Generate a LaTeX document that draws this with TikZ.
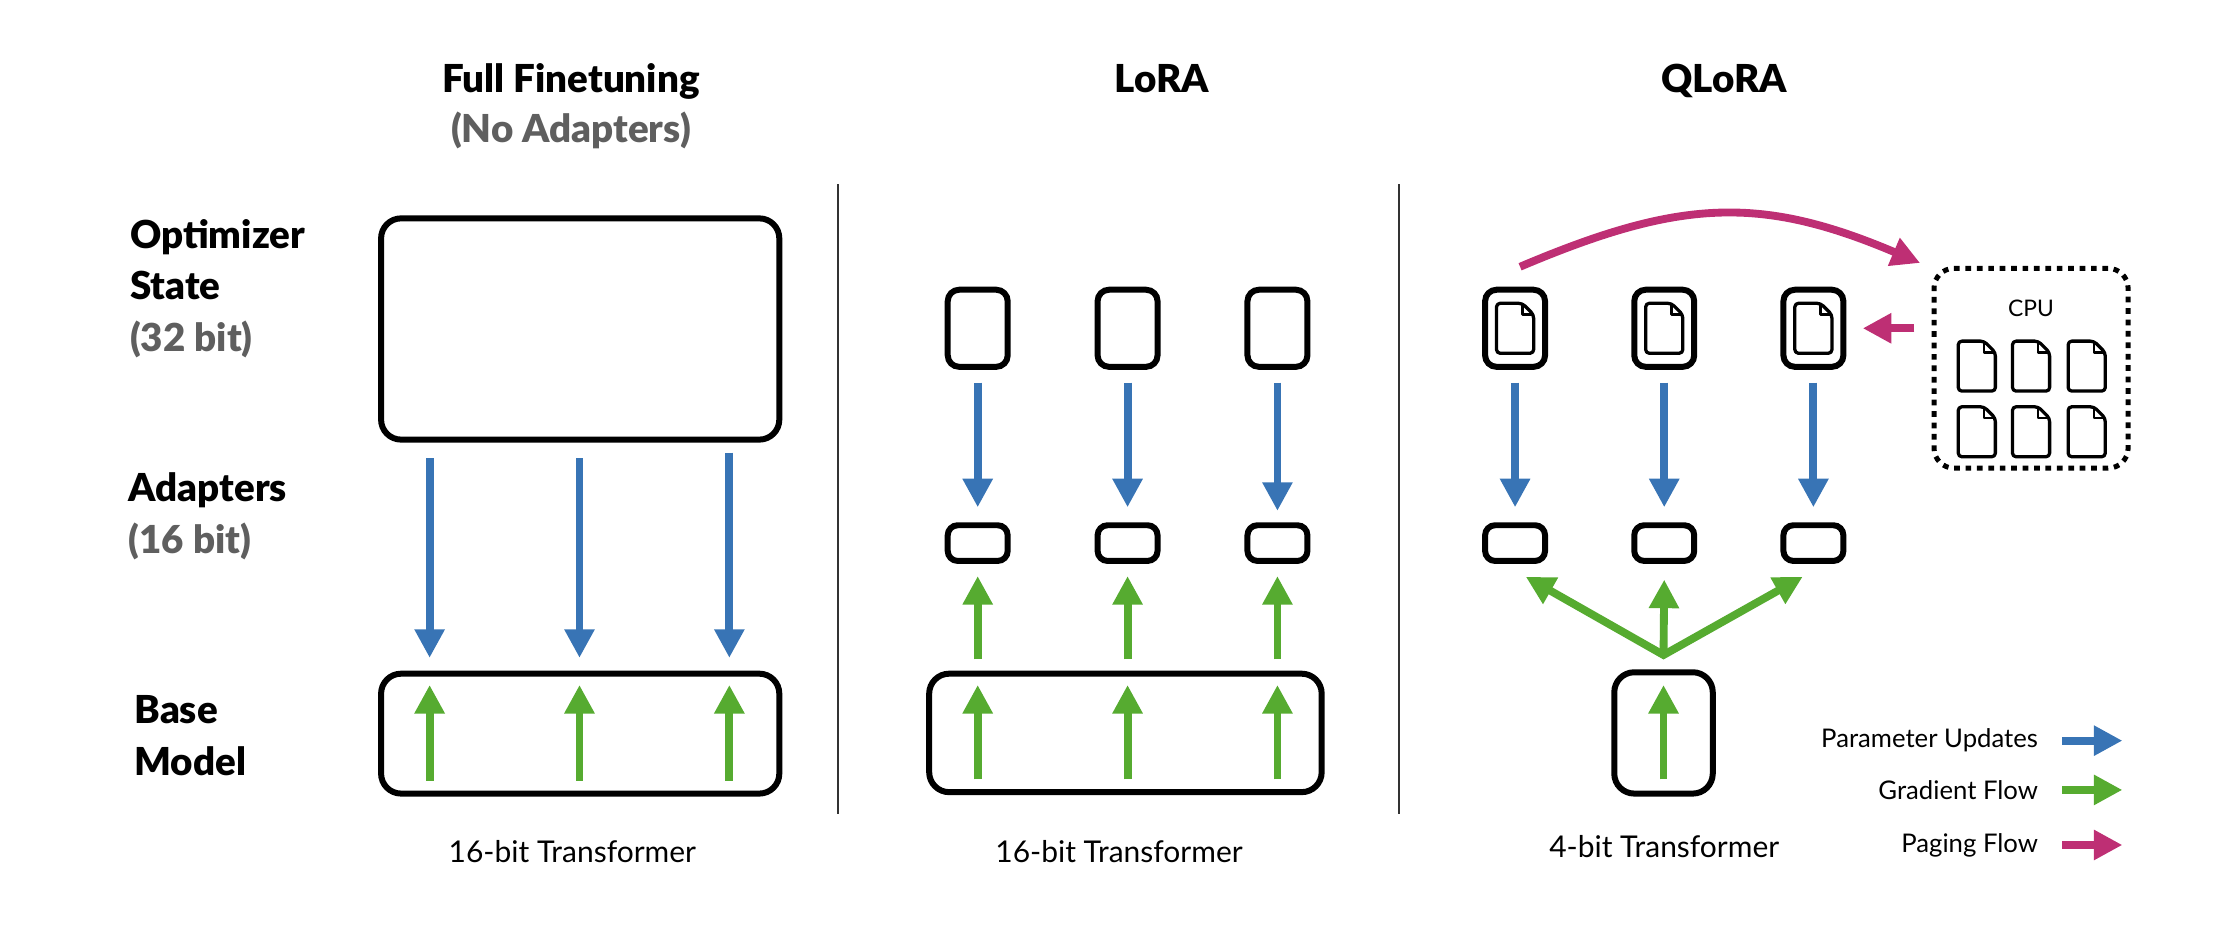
\documentclass[tikz,border=0pt]{standalone}
\usepackage{fontspec}
\setmainfont{Lato}[BoldFont={Lato Black}]
\usepackage{xcolor}
\usetikzlibrary{arrows.meta,positioning}
\definecolor{upblue}{HTML}{3874B5}
\definecolor{gradgreen}{HTML}{56AB30}
\definecolor{pagepink}{HTML}{BE2F74}
\definecolor{subgray}{HTML}{5F5F5F}

\begin{document}
\begin{tikzpicture}
	[x=1pt,y=-1pt,
	title/.style={font=\fontsize{27}{32}\selectfont\bfseries,inner sep=0pt,anchor=base},
	rowlab/.style={font=\fontsize{27}{32}\selectfont\bfseries,inner sep=0pt,anchor=base west},
	caption/.style={font=\fontsize{21}{25}\selectfont,inner sep=0pt,anchor=base},
	legend/.style={font=\fontsize{18}{22}\selectfont,inner sep=0pt,anchor=base east},
	box/.style={draw,line width=4.2pt,rounded corners=8pt,inner sep=0pt},
	bigbox/.style={box,rounded corners=14pt},
	optbox/.style={box,minimum width=42pt,minimum height=54pt},
	adbox/.style={box,rounded corners=7pt,minimum width=42pt,minimum height=25pt},
	flow/.style={line width=5.5pt,-{Triangle[width=20pt,length=20pt]}},
	upd/.style={flow,draw=upblue},
	grad/.style={flow,draw=gradgreen},
	paging/.style={flow,draw=pagepink},
	sep/.style={line width=1.5pt,black!80},
	docpage/.pic={
		\draw[line width=2.3pt,rounded corners=2.5pt,line join=round]
			(-13,-17.5) -- (5,-17.5) -- (13,-9.5) -- (13,17.5) -- (-13,17.5) -- cycle;
		\draw[line width=1.8pt,line join=round] (5,-17.5) -- (5,-9.5) -- (13,-9.5);
	}]
	\useasboundingbox (0,0) rectangle (1568,650);

	% titles
	\node[title] (tfull) at (400,65) {Full Finetuning};
	\node[title,text=subgray] (tnoad) at (400,99.5) {(No Adapters)};
	\node[title] (tlora) at (814,65) {LoRA};
	\node[title] (tqlora) at (1208,65) {QLoRA};

	% row labels
	\node[rowlab] (lopt) at (91,174) {Optimizer};
	\node[rowlab] (lstate) at (91,210) {State};
	\node[rowlab,text=subgray] (l32) at (91,246) {(32 bit)};
	\node[rowlab] (lad) at (90,351.5) {Adapters};
	\node[rowlab,text=subgray] (l16) at (90,387.5) {(16 bit)};
	\node[rowlab] (lbase) at (94,507) {Base};
	\node[rowlab] (lmodel) at (94,543) {Model};

	% separators
	\coordinate (sepA) at (587,129);
	\coordinate (sepB) at (980,129);
	\draw[sep] (sepA) -- ++(0,441);
	\draw[sep] (sepB) -- ++(0,441);

	% full finetuning
	\node[bigbox,minimum width=279pt,minimum height=155pt] (opt) at (406.5,230.5) {};
	\node[bigbox,minimum width=279pt,minimum height=84pt] (baseA) at (406.5,514) {};
	\coordinate (a1) at (301,0);
	\coordinate (a2) at (406,0);
	\coordinate (a3) at (511,0);
	\draw[upd,shorten <=11pt,shorten >=9pt] (opt.south -| a1) -- (baseA.north -| a1);
	\draw[upd,shorten <=11pt,shorten >=9pt] (opt.south -| a2) -- (baseA.north -| a2);
	\draw[upd,shorten <=7pt,shorten >=9pt] (opt.south -| a3) -- (baseA.north -| a3);
	\draw[grad,shorten <=11pt,shorten >=10pt] (baseA.south -| a1) -- (baseA.north -| a1);
	\draw[grad,shorten <=11pt,shorten >=10pt] (baseA.south -| a2) -- (baseA.north -| a2);
	\draw[grad,shorten <=11pt,shorten >=10pt] (baseA.south -| a3) -- (baseA.north -| a3);
	\node[caption] (capA) at (401,604) {16-bit Transformer};

	% lora
	\node[optbox] (la1) at (685,230) {};
	\node[optbox] (la2) at (790,230) {};
	\node[optbox] (la3) at (895,230) {};
	\node[adbox] (lb1) at (685,380.5) {};
	\node[adbox] (lb2) at (790,380.5) {};
	\node[adbox] (lb3) at (895,380.5) {};
	\node[bigbox,minimum width=275pt,minimum height=83pt] (baseB) at (788.5,513.5) {};
	\draw[upd,shorten <=9pt,shorten >=10.5pt] (la1) -- (lb1);
	\draw[upd,shorten <=9pt,shorten >=10.5pt] (la2) -- (lb2);
	\draw[upd,shorten <=9pt,shorten >=8pt] (la3) -- (lb3);
	\draw[grad,shorten <=8pt,shorten >=8.5pt] (baseB.north -| lb1) -- (lb1.south);
	\draw[grad,shorten <=8pt,shorten >=8.5pt] (baseB.north -| lb2) -- (lb2.south);
	\draw[grad,shorten <=8pt,shorten >=8.5pt] (baseB.north -| lb3) -- (lb3.south);
	\draw[grad,shorten <=11pt,shorten >=10pt] (baseB.south -| lb1) -- (baseB.north -| lb1);
	\draw[grad,shorten <=11pt,shorten >=10pt] (baseB.south -| lb2) -- (baseB.north -| lb2);
	\draw[grad,shorten <=11pt,shorten >=10pt] (baseB.south -| lb3) -- (baseB.north -| lb3);
	\node[caption] (capB) at (784,604) {16-bit Transformer};

	% qlora
	\node[optbox] (qa1) at (1061.5,230) {};
	\node[optbox] (qa2) at (1166,230) {};
	\node[optbox] (qa3) at (1270.5,230) {};
	\pic at (qa1.center) {docpage};
	\pic at (qa2.center) {docpage};
	\pic at (qa3.center) {docpage};
	\node[adbox] (qb1) at (1061.5,380.5) {};
	\node[adbox] (qb2) at (1166,380.5) {};
	\node[adbox] (qb3) at (1270.5,380.5) {};
	\node[box,rounded corners=14pt,minimum width=69pt,minimum height=85pt] (baseC) at (1165.5,513.5) {};
	\coordinate[above=10pt of baseC] (fan);
	\draw[upd,shorten <=9pt,shorten >=10.5pt] (qa1) -- (qb1);
	\draw[upd,shorten <=9pt,shorten >=10.5pt] (qa2) -- (qb2);
	\draw[upd,shorten <=9pt,shorten >=10.5pt] (qa3) -- (qb3);
	\draw[grad,{Triangle[width=20pt,length=20pt]}-{Triangle[width=20pt,length=20pt]}]
		([xshift=7.5pt,yshift=-9pt]qb1.south) -- (fan) -- ([xshift=-7.5pt,yshift=-9pt]qb3.south);
	\draw[grad] (fan) -- ([yshift=-11pt]qb2.south);
	\draw[grad,shorten <=12pt,shorten >=11pt] (baseC.south) -- (baseC.north);
	\node[caption] (capC) at (1166,601) {4-bit Transformer};

	% cpu
	\node[draw,line width=3.5pt,dash pattern=on 4pt off 4pt,rounded corners=14pt,
		minimum width=136pt,minimum height=140pt,inner sep=0pt] (cpu) at (1423,258) {};
	\node[font=\fontsize{16}{19}\selectfont,inner sep=0pt,anchor=base] (cpulab) at (1423,222) {CPU};
	\pic at (1385,256.5) {docpage};
	\pic at (1423,256.5) {docpage};
	\pic at (1462,256.5) {docpage};
	\pic at (1385,302.5) {docpage};
	\pic at (1423,302.5) {docpage};
	\pic at (1462,302.5) {docpage};
	\draw[paging] ([xshift=3.5pt,yshift=14pt]qa1.north) .. controls +(112,-47.5) and +(-112,-47.5) .. ([xshift=-8pt,yshift=2pt]cpu.north west);
	\draw[paging,shorten <=12pt,shorten >=11.5pt] (cpu.west |- qa3) -- (qa3.east);

	% legend
	\node[legend] (lgup) at (1428,524) {Parameter Updates};
	\node[legend] (lggr) at (1428,560) {Gradient Flow};
	\node[legend] (lgpg) at (1428,597) {Paging Flow};
	\draw[upd] ([xshift=17pt]lgup.east) -- ++(42,0);
	\draw[grad] ([xshift=17pt]lggr.east) -- ++(42,0);
	\draw[paging] ([xshift=17pt]lgpg.east) -- ++(42,0);
\end{tikzpicture}
\end{document}
